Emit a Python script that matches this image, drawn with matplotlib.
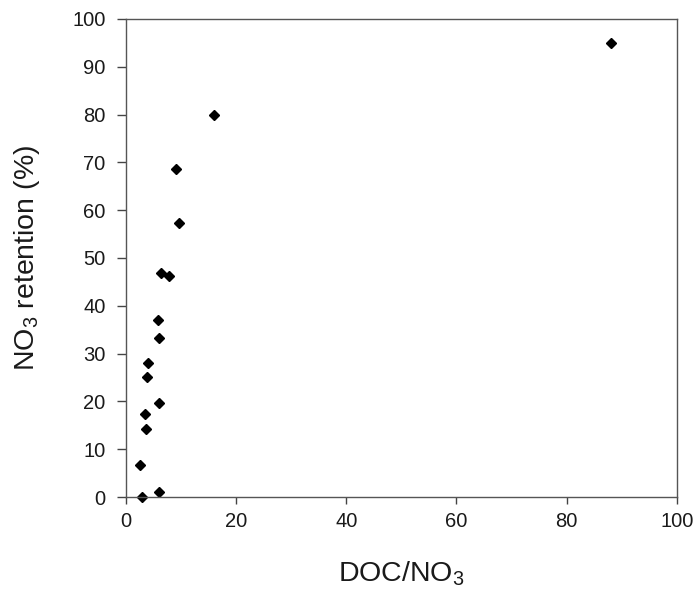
import matplotlib
matplotlib.use("Agg")
import matplotlib.pyplot as plt

# DOC/NO3 ratio vs NO3 retention
doc_no3 = [88.0, 16.0, 9.1, 9.6, 6.4, 7.8, 5.8, 6.1, 4.0, 3.9, 6.1, 3.4, 3.7, 2.6, 6.1, 2.9]
retention = [95.0, 80.0, 68.7, 57.4, 46.8, 46.2, 37.0, 33.2, 28.1, 25.1, 19.6, 17.4, 14.2, 6.8, 1.0, 0.0]

ticks = [0, 20, 40, 60, 80, 100]
yticks = [0, 10, 20, 30, 40, 50, 60, 70, 80, 90, 100]

plt.rcParams['font.family'] = ['Liberation Sans', 'DejaVu Sans']
plt.rcParams['mathtext.fontset'] = 'custom'
plt.rcParams['mathtext.rm'] = 'Liberation Sans'
plt.rcParams['mathtext.it'] = 'Liberation Sans:italic'
plt.rcParams['mathtext.default'] = 'regular'
txt = '#1a1a1a'

fig = plt.figure(figsize=(6.95, 5.89), dpi=100)
ax = fig.add_axes([0.181, 0.156, 0.793, 0.812])

ax.plot(doc_no3, retention, linestyle='none', marker='D', markersize=4.6,
        color='black', clip_on=False)

ax.set_xlim(0, 100)
ax.set_ylim(0, 100)
ax.set_xticks(ticks)
ax.set_yticks(yticks)
ax.tick_params(direction='out', width=1, colors='#444444',
               labelsize=14.5, labelcolor=txt)
ax.tick_params(axis='y', length=6.5, pad=8)
ax.tick_params(axis='x', length=5, pad=6)

for s in ax.spines.values():
    s.set_color('#555555')
    s.set_linewidth(1)

ax.set_xlabel('DOC/NO$_3$', fontsize=20.5, color=txt, labelpad=20)
ax.set_ylabel('NO$_3$ retention (%)', fontsize=20.5, color=txt, labelpad=22)

fig.savefig('out.png', dpi=100)
